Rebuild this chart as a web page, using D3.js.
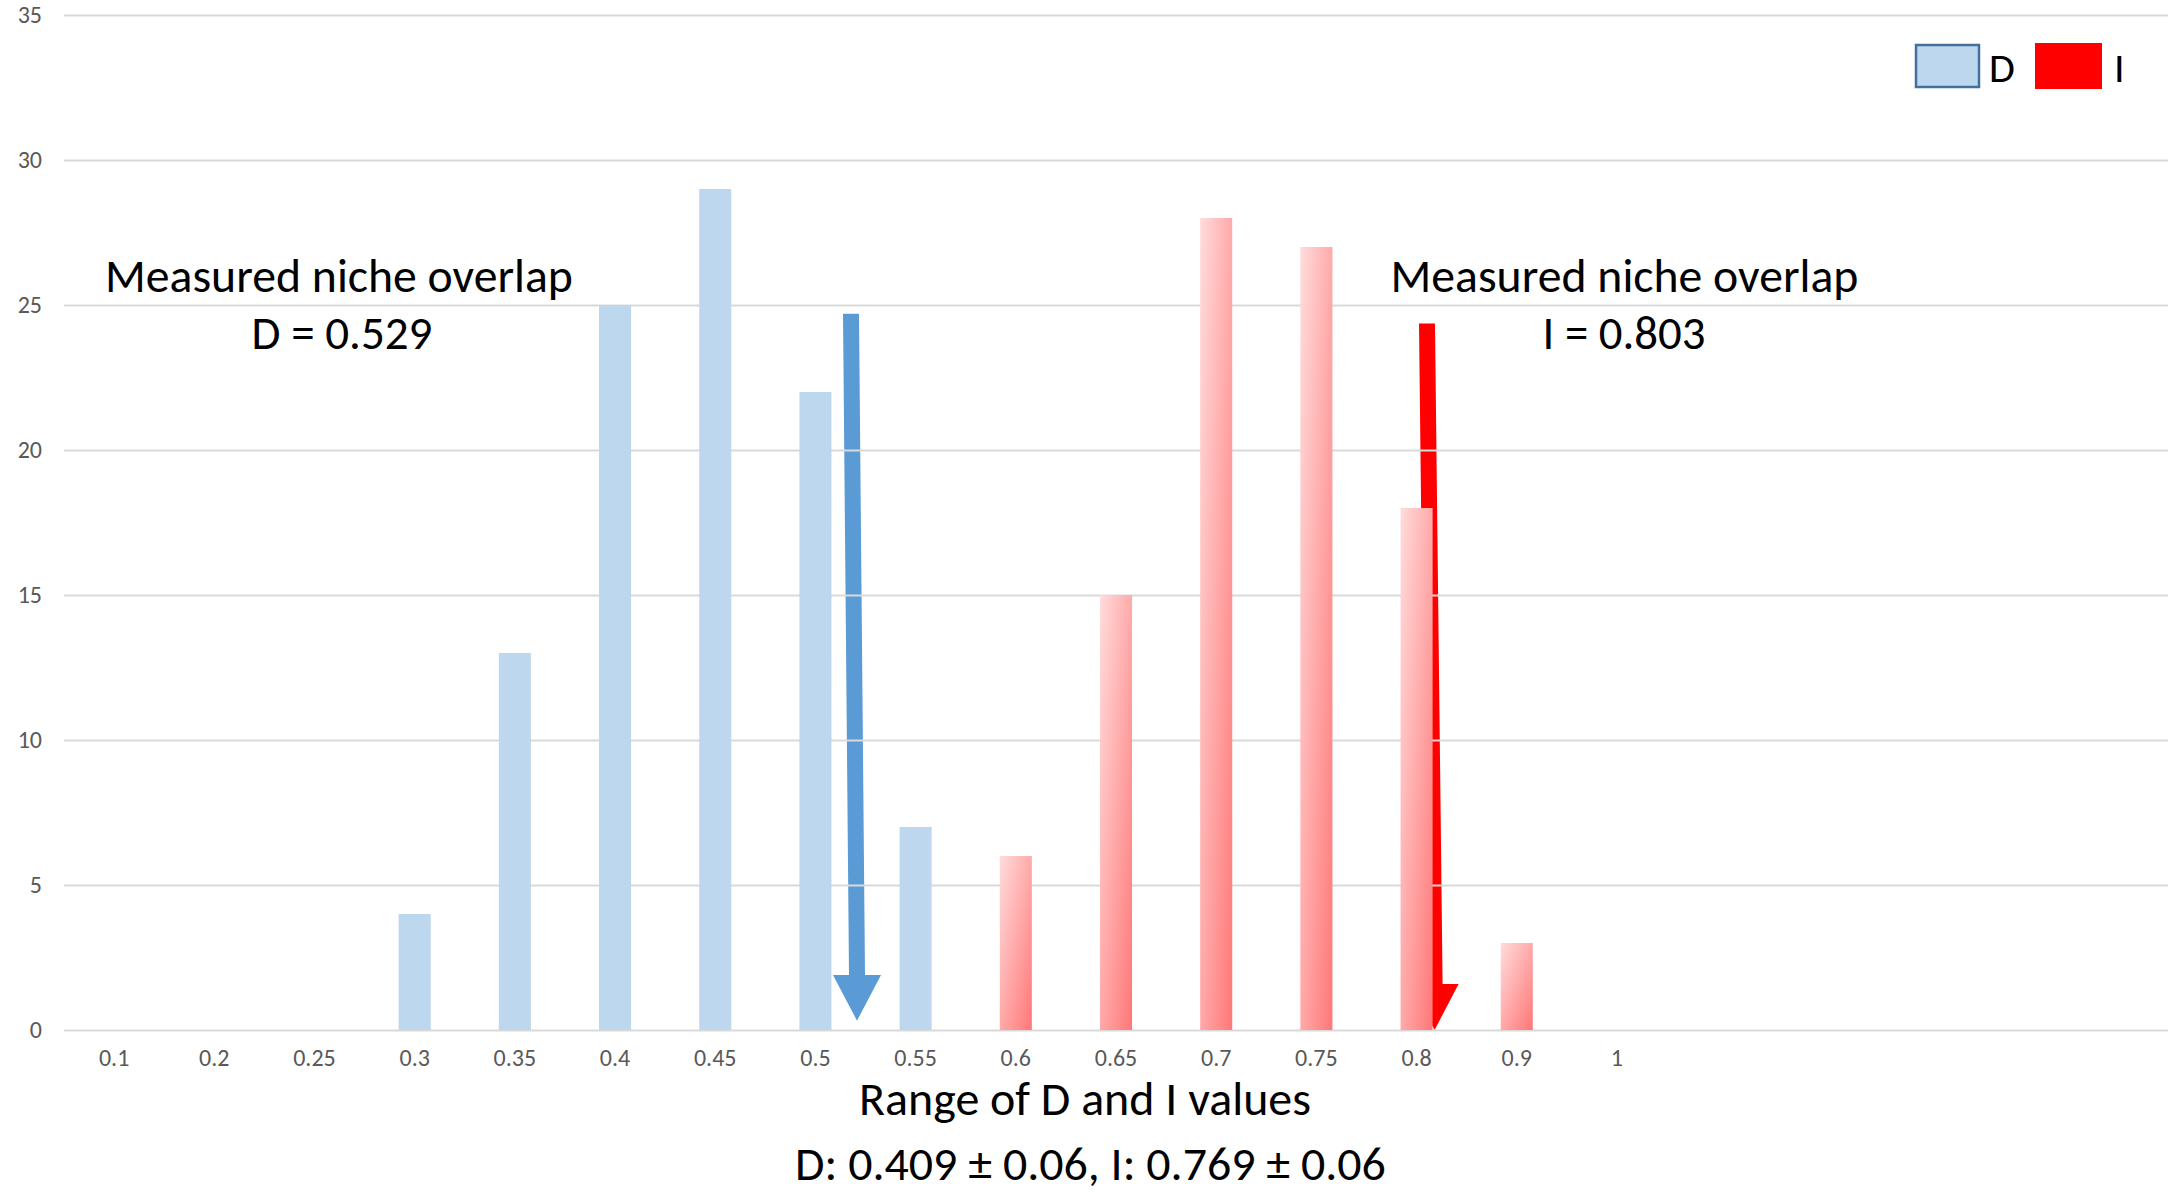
<!DOCTYPE html>
<html><head><meta charset="utf-8">
<script src="https://cdn.jsdelivr.net/npm/d3@7"></script>
<style>
body{margin:0;background:#fff}
svg{display:block}
text{font-family:Carlito,"Open Sans","Noto Sans",sans-serif}
</style>
</head><body>
<svg id="chart" width="2175" height="1192"></svg>
<script>
// ---------- data ----------
const categories = ["0.1","0.2","0.25","0.3","0.35","0.4","0.45","0.5","0.55","0.6","0.65","0.7","0.75","0.8","0.9","1","","","","",""];
const seriesD = [0,0,0,4,13,25,29,22,7,0,0,0,0,0,0,0,0,0,0,0,0];
const seriesI = [0,0,0,0,0,0,0,0,0,6,15,28,27,18,3,0,0,0,0,0,0];
const yTicks = [0,5,10,15,20,25,30,35];
const seriesNames = ["D","I"];
const noteD = ["Measured niche overlap","D = 0.529"];
const noteI = ["Measured niche overlap","I = 0.803"];
const axisTitle = "Range of D and I values";
const subTitle = "D: 0.409 \u00b1 0.06, I: 0.769 \u00b1 0.06";

// ---------- layout ----------
const W = 2175, H = 1192;
const plot = {left:64, right:2168, top:15, bottom:1030};
const colD = "#bdd7ee", colDArrow = "#5b9bd5", colDBorder = "#41719c", colI = "#ff0000";
// annotation arrows (category-index units / value units)
const arrowD = {xTop:7.355, xBottom:7.415, yTop:24.7, yHead:1.9, yTip:0.32, color:colDArrow};
const arrowI = {xTop:13.104, xBottom:13.18, yTop:24.36, yHead:1.59, yTip:0, color:colI};

const svg = d3.select("#chart");
const defs = svg.append("defs");
const grad = defs.append("linearGradient").attr("id","gradI")
  .attr("x1",0).attr("y1",0).attr("x2",1).attr("y2",1);
grad.append("stop").attr("offset","0%").attr("stop-color","#ffdcdc");
grad.append("stop").attr("offset","100%").attr("stop-color","#ff7777");

const x = d3.scaleBand().domain(d3.range(categories.length))
  .range([plot.left, plot.right]).paddingInner(0.68).paddingOuter(0.34);
const y = d3.scaleLinear().domain([0,35]).range([plot.bottom, plot.top]);
const xc = i => x(0) + x.bandwidth()/2 + i * x.step();

// ---------- arrows (behind gridlines) ----------
function drawArrow(a){
  const xt = xc(a.xTop), xb = xc(a.xBottom);
  const sw = 8, hw = 24;
  const pts = [
    [xt-sw, y(a.yTop)], [xt+sw, y(a.yTop)], [xb+sw, y(a.yHead)], [xb+hw, y(a.yHead)],
    [xb, y(a.yTip)], [xb-hw, y(a.yHead)], [xb-sw, y(a.yHead)]
  ];
  svg.append("polygon").attr("points", pts.map(p=>p.join(",")).join(" "))
    .attr("fill", a.color);
}
drawArrow(arrowI);
drawArrow(arrowD);

// ---------- y axis + gridlines ----------
const gy = svg.append("g").attr("transform",`translate(${plot.left},0)`)
  .call(d3.axisLeft(y).tickValues(yTicks).tickSize(-(plot.right-plot.left)).tickPadding(22));
gy.select(".domain").remove();
gy.selectAll(".tick line").attr("stroke","#d9d9d9").attr("stroke-width",2);
gy.selectAll(".tick text").attr("fill","#595959").attr("font-size",24)
  .style("font-family",'Carlito,"Open Sans",sans-serif');

// ---------- x axis ----------
const gx = svg.append("g").attr("transform",`translate(0,${plot.bottom})`)
  .call(d3.axisBottom(x).tickFormat(i=>categories[i]).tickSize(0).tickPadding(19));
gx.select(".domain").remove();
gx.selectAll(".tick text").attr("fill","#595959").attr("font-size",24)
  .style("font-family",'Carlito,"Open Sans",sans-serif');

// ---------- bars ----------
svg.append("g").selectAll("rect").data(seriesD.map((v,i)=>({v,i})).filter(d=>d.v>0))
  .join("rect")
  .attr("x",d=>x(d.i)).attr("width",x.bandwidth())
  .attr("y",d=>y(d.v)).attr("height",d=>y(0)-y(d.v))
  .attr("fill",colD);
svg.append("g").selectAll("rect").data(seriesI.map((v,i)=>({v,i})).filter(d=>d.v>0))
  .join("rect")
  .attr("x",d=>x(d.i)).attr("width",x.bandwidth())
  .attr("y",d=>y(d.v)).attr("height",d=>y(0)-y(d.v))
  .attr("fill","url(#gradI)");

// ---------- texts ----------
function fitText(sel, target){
  const w = sel.node().getComputedTextLength();
  const fs = parseFloat(sel.attr("font-size"));
  sel.attr("font-size", fs*target/w);
}
function addText(str, cx, base, size, target){
  const t = svg.append("text").attr("x",cx).attr("y",base).attr("text-anchor","middle")
    .attr("font-size",size).attr("fill","#000").text(str);
  if (target) fitText(t, target);
  return t;
}
addText(noteD[0], 339, 292, 44, 468);
addText(noteD[1], 342, 349, 44, 181);
addText(noteI[0], 1624.5, 292, 44, 468);
addText(noteI[1], 1624, 349, 44, 163);
addText(axisTitle, 1085, 1115, 44, 452);
addText(subTitle, 1090.5, 1180, 44, 591);

// ---------- legend ----------
const lg = svg.append("g");
lg.append("rect").attr("x",1916).attr("y",45).attr("width",63).attr("height",42)
  .attr("fill",colD).attr("stroke",colDBorder).attr("stroke-width",2.5);
lg.append("text").attr("x",1989).attr("y",82).attr("font-size",42).attr("fill","#000").text(seriesNames[0]);
lg.append("rect").attr("x",2035).attr("y",43).attr("width",67).attr("height",46).attr("fill",colI);
lg.append("text").attr("x",2114).attr("y",82).attr("font-size",42).attr("fill","#000").text(seriesNames[1]);
</script>
</body></html>
